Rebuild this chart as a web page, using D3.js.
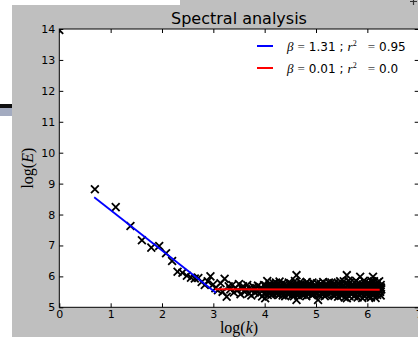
<!DOCTYPE html>
<html>
<head>
<meta charset="utf-8">
<script src="https://cdn.jsdelivr.net/npm/d3@7"></script>
<style>
    body { margin: 0; background: #fff; }
    svg { display: block; }
    .axis text { font-family: "DejaVu Sans", sans-serif; font-size: 11px; fill: #000; }
    .axis line { stroke: #000; }
</style>
</head>
<body>
<div id="chart"></div>
<script>
// log(k), log(E) pairs
const fallingPoints = [
    [0, 13.97], [0.693, 8.82], [1.099, 8.24], [1.386, 7.63], [1.609, 7.17], [1.792, 6.93],
    [1.946, 6.98], [2.079, 6.75], [2.197, 6.50], [2.303, 6.15], [2.398, 6.12], [2.485, 6.02],
    [2.565, 5.96], [2.639, 5.93], [2.708, 5.95], [2.773, 5.82], [2.833, 5.72], [2.890, 5.84],
    [2.944, 6.00], [2.996, 5.74]
];

const plateauPoints = [
    [3.04, 5.62], [3.09, 5.55], [3.14, 5.78], [3.18, 5.50], [3.22, 5.92], [3.26, 5.34], [3.30, 5.68],
    [3.33, 5.58], [3.37, 5.72], [3.40, 5.48], [3.43, 5.62], [3.47, 5.55], [3.50, 5.75], [3.53, 5.42],
    [3.56, 5.60], [3.58, 5.68], [3.61, 5.50], [3.64, 5.58], [3.66, 5.72], [3.69, 5.45], [3.71, 5.62],
    [3.74, 5.38], [3.76, 5.55], [3.78, 5.66], [3.81, 5.48], [3.83, 5.60], [3.85, 5.52], [3.87, 5.70],
    [3.89, 5.44], [3.91, 5.58], [3.93, 5.64], [3.95, 5.35], [3.97, 5.55], [3.99, 5.72],
    [4.01, 5.29], [4.03, 5.62], [4.05, 5.85], [4.07, 5.48], [4.09, 5.70], [4.11, 5.55], [4.13, 5.40],
    [4.15, 5.66], [4.17, 5.78], [4.19, 5.50], [4.21, 5.60], [4.23, 5.44], [4.25, 5.72], [4.27, 5.56],
    [4.29, 5.83], [4.31, 5.47], [4.33, 5.64], [4.35, 5.38], [4.37, 5.58], [4.39, 5.75], [4.41, 5.52],
    [4.43, 5.66], [4.45, 5.42], [4.47, 5.80], [4.49, 5.57], [4.51, 5.48], [4.53, 5.70], [4.55, 5.62],
    [4.57, 5.36], [4.59, 5.85], [4.62, 6.04], [4.62, 5.24], [4.64, 5.55], [4.66, 5.72], [4.68, 5.46],
    [4.70, 5.63], [4.72, 5.78], [4.74, 5.40], [4.76, 5.58], [4.78, 5.68], [4.80, 5.50], [4.82, 5.82],
    [4.84, 5.45], [4.86, 5.62], [4.88, 5.55], [4.90, 5.74], [4.92, 5.39], [4.94, 5.60], [4.96, 5.68],
    [4.98, 5.48],
    [5.00, 5.62], [5.02, 5.78], [5.04, 5.24], [5.06, 5.55], [5.08, 5.70], [5.10, 5.44], [5.12, 5.63],
    [5.14, 5.82], [5.16, 5.50], [5.18, 5.58], [5.20, 5.40], [5.22, 5.72], [5.24, 5.56], [5.26, 5.66],
    [5.28, 5.46], [5.30, 5.80], [5.32, 5.52], [5.34, 5.61], [5.36, 5.37], [5.38, 5.70], [5.40, 5.57],
    [5.42, 5.48], [5.44, 5.76], [5.46, 5.60], [5.48, 5.42], [5.50, 5.66], [5.52, 5.54], [5.54, 5.84],
    [5.56, 5.32], [5.58, 5.62], [5.60, 6.04], [5.60, 5.29], [5.62, 5.70], [5.64, 5.50], [5.66, 5.80],
    [5.68, 5.44], [5.70, 5.60], [5.72, 5.74], [5.74, 5.36], [5.76, 5.56], [5.78, 5.86], [5.80, 5.48],
    [5.82, 5.66], [5.84, 5.40], [5.86, 5.99], [5.88, 5.58], [5.90, 5.30], [5.92, 5.72], [5.94, 5.52],
    [5.96, 5.82], [5.98, 5.45], [6.00, 5.64], [6.02, 5.34], [6.04, 5.76], [6.06, 5.55], [6.08, 5.85],
    [6.11, 5.99], [6.12, 5.42], [6.14, 5.68], [6.16, 5.30], [6.18, 5.60], [6.20, 5.80], [6.22, 5.47],
    [6.24, 5.66], [6.26, 5.38], [6.27, 5.58]
];

// the band gets denser with k, these sit between the ones above
const densePoints = [
    [4.00, 5.45], [4.02, 5.70], [4.04, 5.56], [4.06, 5.40], [4.08, 5.64], [4.10, 5.76], [4.12, 5.50],
    [4.14, 5.58], [4.16, 5.44], [4.18, 5.68], [4.20, 5.53], [4.22, 5.80], [4.24, 5.46], [4.26, 5.62],
    [4.28, 5.40], [4.30, 5.70], [4.32, 5.55], [4.34, 5.76], [4.36, 5.48], [4.38, 5.62], [4.40, 5.36],
    [4.42, 5.72], [4.44, 5.56], [4.46, 5.64], [4.48, 5.44], [4.50, 5.78], [4.52, 5.52], [4.54, 5.40],
    [4.56, 5.68], [4.58, 5.55], [4.60, 5.74], [4.61, 5.46], [4.63, 5.66], [4.65, 5.38], [4.67, 5.60],
    [4.69, 5.82], [4.71, 5.50], [4.73, 5.64], [4.75, 5.72], [4.77, 5.44], [4.79, 5.58], [4.81, 5.36],
    [4.83, 5.68], [4.85, 5.75], [4.87, 5.48], [4.89, 5.62], [4.91, 5.54], [4.93, 5.80], [4.95, 5.42],
    [4.97, 5.58], [4.99, 5.70],
    [5.01, 5.46], [5.03, 5.64], [5.05, 5.52], [5.07, 5.38], [5.09, 5.76], [5.11, 5.58], [5.13, 5.48],
    [5.15, 5.68], [5.17, 5.36], [5.19, 5.74], [5.21, 5.54], [5.23, 5.44], [5.25, 5.80], [5.27, 5.60],
    [5.29, 5.50], [5.31, 5.66], [5.33, 5.40], [5.35, 5.78], [5.37, 5.56], [5.39, 5.46], [5.41, 5.70],
    [5.43, 5.34], [5.45, 5.62], [5.47, 5.84], [5.49, 5.52], [5.51, 5.38], [5.53, 5.68], [5.55, 5.58],
    [5.57, 5.76], [5.59, 5.44], [5.61, 5.56], [5.63, 5.86], [5.65, 5.36], [5.67, 5.64], [5.69, 5.72],
    [5.71, 5.46], [5.73, 5.58], [5.75, 5.80], [5.77, 5.40], [5.79, 5.66], [5.81, 5.32], [5.83, 5.78],
    [5.85, 5.54], [5.87, 5.70], [5.89, 5.44], [5.91, 5.62], [5.93, 5.86], [5.95, 5.36], [5.97, 5.68],
    [5.99, 5.56], [6.01, 5.78], [6.03, 5.46], [6.05, 5.64], [6.07, 5.32], [6.09, 5.70], [6.10, 5.52],
    [6.13, 5.84], [6.15, 5.48], [6.17, 5.74], [6.19, 5.40], [6.21, 5.62], [6.23, 5.84], [6.25, 5.50],
    [6.26, 5.72],
    [4.505, 5.62], [4.545, 5.50], [4.585, 5.66], [4.625, 5.58], [4.665, 5.44], [4.705, 5.70],
    [4.745, 5.55], [4.785, 5.62], [4.825, 5.48], [4.865, 5.72], [4.905, 5.58], [4.945, 5.46],
    [4.985, 5.66], [5.025, 5.56], [5.065, 5.64], [5.105, 5.72], [5.145, 5.45], [5.185, 5.66],
    [5.225, 5.58], [5.265, 5.50], [5.305, 5.62], [5.345, 5.74], [5.385, 5.52], [5.425, 5.60],
    [5.465, 5.70], [5.505, 5.46], [5.545, 5.62], [5.585, 5.54], [5.625, 5.74], [5.665, 5.60],
    [5.705, 5.48], [5.745, 5.68], [5.785, 5.56], [5.825, 5.62], [5.865, 5.46], [5.905, 5.74],
    [5.945, 5.60], [5.985, 5.66], [6.025, 5.56], [6.065, 5.72], [6.105, 5.60], [6.145, 5.54],
    [6.185, 5.70], [6.225, 5.58], [6.265, 5.64]
];

// fitted lines (endpoints) and their legend values
const steepFit = [[0.68, 8.56], [3.05, 5.47]];
const flatFit = [[3.03, 5.58], [6.24, 5.57]];
const fitBeta = ['1.31', '0.01'];
const fitR2 = ['0.95', '0.0'];

const xTicks = [0, 1, 2, 3, 4, 5, 6, 7];
const yTicks = [5, 6, 7, 8, 9, 10, 11, 12, 13, 14];

class SpectrumChart {
    constructor(_config) {
        this.config = {
            parentElement: _config.parentElement,
            containerWidth: 418,
            containerHeight: 337,
            margin: { top: 29, right: -0.7, bottom: 29.7, left: 59.3 }
        }
        this.initVis();
    }

    initVis() {
        let vis = this;

        vis.width = vis.config.containerWidth - vis.config.margin.left - vis.config.margin.right;
        vis.height = vis.config.containerHeight - vis.config.margin.top - vis.config.margin.bottom;

        vis.xScale = d3.scaleLinear().domain([0, 7]).range([0, vis.width]);
        vis.yScale = d3.scaleLinear().domain([5, 14]).range([vis.height, 0]);

        vis.svg = d3.select(vis.config.parentElement).append('svg')
            .attr('width', vis.config.containerWidth)
            .attr('height', vis.config.containerHeight);

        // grey figure background, the bits of screenshot around it
        vis.svg.append('rect').attr('width', vis.config.containerWidth).attr('height', vis.config.containerHeight).attr('fill', '#bfbfbf');
        vis.svg.append('rect').attr('width', 12).attr('height', vis.config.containerHeight).attr('fill', '#fff');
        vis.svg.append('rect').attr('width', 180).attr('height', 5).attr('fill', '#fff');
        vis.svg.append('rect').attr('y', 104).attr('width', 12).attr('height', 4).attr('fill', '#111');
        vis.svg.append('rect').attr('y', 108).attr('width', 12).attr('height', 8).attr('fill', '#a3abc0');
        vis.svg.append('path').attr('d', 'M410,1.5H417M413.5,0V5').attr('stroke', '#333').attr('stroke-width', 1.2);

        vis.chartArea = vis.svg.append('g')
            .attr('transform', `translate(${vis.config.margin.left},${vis.config.margin.top})`);

        vis.chartArea.append('rect')
            .attr('width', vis.width)
            .attr('height', vis.height)
            .attr('fill', '#fff');

        vis.svg.append('defs').append('clipPath').attr('id', 'plot-clip')
            .append('rect').attr('width', vis.width).attr('height', vis.height);

        vis.chart = vis.chartArea.append('g').attr('clip-path', 'url(#plot-clip)');

        // inward ticks on all four sides, labels only left and bottom
        vis.xAxis = d3.axisBottom(vis.xScale).tickValues(xTicks).tickFormat(d3.format('d'))
            .tickSizeInner(-4).tickSizeOuter(0).tickPadding(3);
        vis.yAxis = d3.axisLeft(vis.yScale).tickValues(yTicks).tickFormat(d3.format('d'))
            .tickSizeInner(-4).tickSizeOuter(0).tickPadding(4);
        vis.xAxisTop = d3.axisTop(vis.xScale).tickValues(xTicks).tickSizeInner(-4).tickSizeOuter(0).tickFormat('');
        vis.yAxisRight = d3.axisRight(vis.yScale).tickValues(yTicks).tickSizeInner(-4).tickSizeOuter(0).tickFormat('');

        vis.xAxisG = vis.chartArea.append('g').attr('class', 'axis x-axis')
            .attr('transform', `translate(0,${vis.height})`);
        vis.yAxisG = vis.chartArea.append('g').attr('class', 'axis y-axis');
        vis.xAxisTopG = vis.chartArea.append('g').attr('class', 'axis');
        vis.yAxisRightG = vis.chartArea.append('g').attr('class', 'axis')
            .attr('transform', `translate(${vis.width},0)`);

        vis.renderVis();
    }

    renderVis() {
        let vis = this;
        const points = fallingPoints.concat(plateauPoints, densePoints);
        const s = 3.9;

        vis.chart.selectAll('.marker')
            .data(points)
            .join('path')
            .attr('class', 'marker')
            .attr('transform', d => `translate(${vis.xScale(d[0])},${vis.yScale(d[1])})`)
            .attr('d', `M${-s},${-s}L${s},${s}M${-s},${s}L${s},${-s}`)
            .attr('stroke', '#000')
            .attr('stroke-width', 1.8)
            .attr('fill', 'none');

        const line = d3.line().x(d => vis.xScale(d[0])).y(d => vis.yScale(d[1]));
        vis.chart.append('path').datum(steepFit).attr('d', line)
            .attr('stroke', '#0000ff').attr('stroke-width', 1.8).attr('fill', 'none');
        vis.chart.append('path').datum(flatFit).attr('d', line)
            .attr('stroke', '#ff0000').attr('stroke-width', 2).attr('fill', 'none');

        vis.xAxisG.call(vis.xAxis).call(g => g.select('.domain').remove());
        vis.yAxisG.call(vis.yAxis).call(g => g.select('.domain').remove());
        vis.xAxisTopG.call(vis.xAxisTop).call(g => g.select('.domain').remove());
        vis.yAxisRightG.call(vis.yAxisRight).call(g => g.select('.domain').remove());

        vis.chartArea.append('rect')
            .attr('width', vis.width).attr('height', vis.height)
            .attr('fill', 'none').attr('stroke', '#000').attr('stroke-width', 1);

        // legend, no frame
        const colors = ['#0000ff', '#ff0000'];
        const serif = '"Liberation Serif", "DejaVu Serif", serif';
        const sans = '"DejaVu Sans", sans-serif';
        const legend = vis.svg.append('g').attr('transform', 'translate(257,46)');
        fitBeta.forEach((b, i) => {
            const row = legend.append('g').attr('transform', `translate(0,${i * 22})`);
            row.append('line').attr('x1', 0).attr('x2', 16)
                .attr('stroke', colors[i]).attr('stroke-width', 2);
            const t = row.append('text').attr('x', 30).attr('y', 4.5)
                .attr('font-size', 12).attr('fill', '#000');
            t.append('tspan').attr('font-family', serif).attr('font-style', 'italic').attr('font-size', 13).text('β');
            t.append('tspan').attr('font-family', serif).attr('font-size', 13).attr('fill', '#444').attr('dx', 4).text('=');
            t.append('tspan').attr('font-family', sans).attr('dx', 4).text(b);
            t.append('tspan').attr('font-family', sans).attr('dx', 4).text(';');
            t.append('tspan').attr('font-family', serif).attr('font-style', 'italic').attr('font-size', 13).attr('dx', 4).text('r');
            t.append('tspan').attr('font-family', serif).attr('font-size', 8).attr('dy', -5).text('2');
            t.append('tspan').attr('font-family', serif).attr('font-size', 13).attr('fill', '#444').attr('dx', 11).attr('dy', 5).text('=');
            t.append('tspan').attr('font-family', sans).attr('dx', 4).text(fitR2[i]);
        });

        // title and axis labels
        vis.svg.append('text')
            .attr('x', vis.config.margin.left + vis.width / 2).attr('y', 24)
            .attr('text-anchor', 'middle')
            .attr('font-family', sans).attr('font-size', 16)
            .text('Spectral analysis');

        const xl = vis.svg.append('text')
            .attr('x', vis.config.margin.left + vis.width / 2).attr('y', 333)
            .attr('text-anchor', 'middle')
            .attr('font-family', serif).attr('font-size', 16);
        xl.append('tspan').text('log(');
        xl.append('tspan').attr('font-style', 'italic').text('k');
        xl.append('tspan').text(')');

        const yl = vis.svg.append('text')
            .attr('transform', `translate(33,${vis.config.margin.top + vis.height / 2}) rotate(-90)`)
            .attr('text-anchor', 'middle')
            .attr('font-family', serif).attr('font-size', 16);
        yl.append('tspan').text('log(');
        yl.append('tspan').attr('font-style', 'italic').text('E');
        yl.append('tspan').text(')');
    }
}

new SpectrumChart({ parentElement: '#chart' });
</script>
</body>
</html>
